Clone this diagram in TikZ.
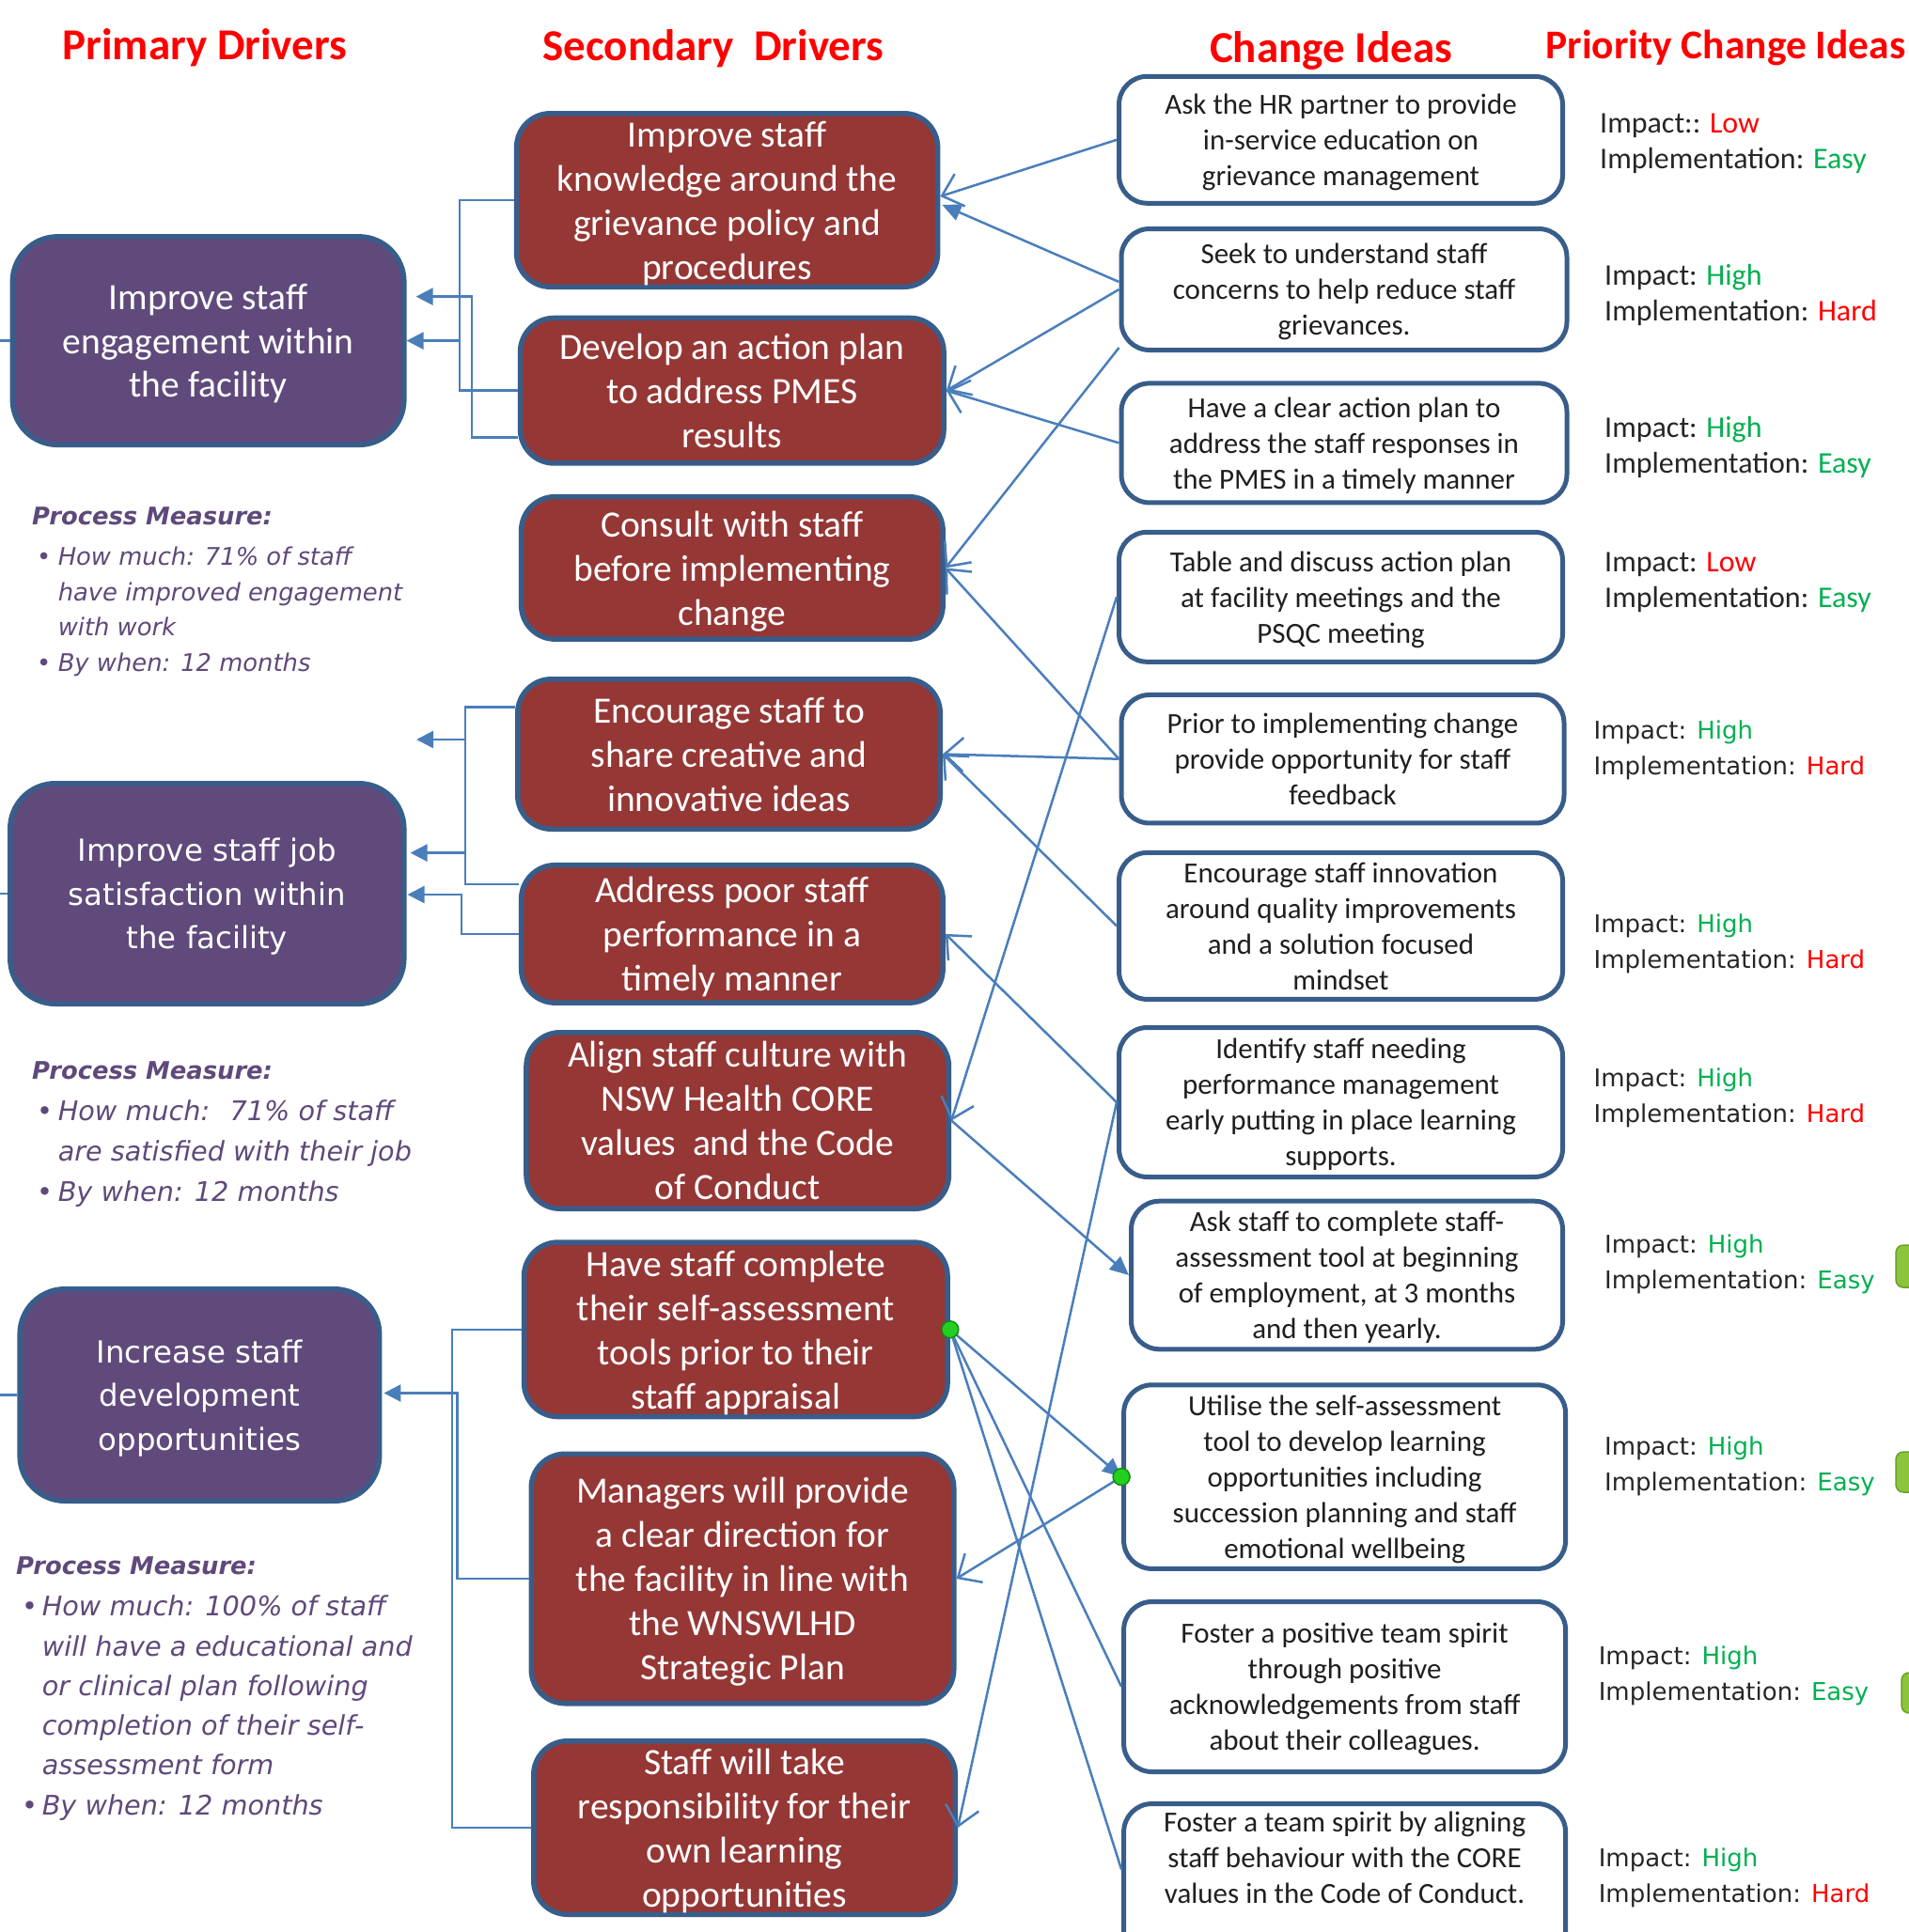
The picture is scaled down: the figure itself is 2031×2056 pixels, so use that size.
\documentclass[tikz,border=0pt]{standalone}
\usepackage{fontspec}
\setmainfont{Carlito}
\newfontfamily\vfont{DejaVu Sans}
\usetikzlibrary{arrows.meta,calc}

\definecolor{hdrred}{HTML}{FF0000}
\definecolor{pfill}{HTML}{604A7B}
\definecolor{sfill}{HTML}{953735}
\definecolor{bord}{HTML}{385D8A}
\definecolor{lineblue}{HTML}{4A7EBB}
\definecolor{okgreen}{HTML}{00B050}
\definecolor{pmtext}{HTML}{5F497A}
\definecolor{dotgreen}{HTML}{22D022}
\definecolor{dotedge}{HTML}{138A13}
\definecolor{bargreen}{HTML}{8CC43C}
\definecolor{baredge}{HTML}{6E9E2A}

\newcommand\boxfont{\fontsize{39.5}{47}\selectfont}
\newcommand\vboxfont{\vfont\fontsize{32.4}{46.5}\selectfont}
\newcommand\ideafont{\fontsize{31}{38}\selectfont}
\newcommand\pmhead{\vfont\bfseries\itshape\fontsize{25.8}{38}\selectfont}
\newcommand\pmsmall{\vfont\itshape\fontsize{25.8}{38}\selectfont}
\newcommand\pmlarge{\vfont\itshape\fontsize{28.7}{43}\selectfont}
\newcommand\pmbullet{\makebox[22.6pt][l]{\upshape\textbullet}}

\begin{document}
\begin{tikzpicture}[x=1pt,y=-1pt,
  hdr/.style={text=hdrred, font=\bfseries\fontsize{47}{56}\selectfont, anchor=base, inner sep=0pt},
  pbox/.style={rounded corners=48pt, fill=pfill, draw=bord, line width=5.5pt, text=white, align=center, inner sep=0pt, text depth=0pt},
  sbox/.style={rounded corners=36pt, fill=sfill, draw=bord, line width=5.5pt, text=white, align=center, inner sep=0pt, text depth=0pt, font=\boxfont},
  cbox/.style={rounded corners=30pt, fill=white, draw=bord, line width=5pt, text=black!88, align=center, inner sep=0pt, text depth=0pt, font=\ideafont},
  ctext/.style={text=black!88, align=center, inner sep=0pt, text depth=0pt, font=\ideafont},
  lconn/.style={draw=lineblue, line width=2.5pt},
  larr/.style={lconn, -{Triangle[length=18pt,width=18pt]}},
  oarr/.style={draw=lineblue, line width=2.5pt, -{Straight Barb[length=20pt,width=36pt]}},
  farr/.style={draw=lineblue, line width=2.5pt, -{Triangle[length=20pt,width=18pt]}},
  gdot/.style={circle, fill=dotgreen, draw=dotedge, line width=1.5pt, minimum size=18pt, inner sep=0pt},
  prio/.style={anchor=west, align=left, inner sep=0pt, text=black!85, font=\fontsize{32}{38}\selectfont},
  priov/.style={prio, font=\vfont\fontsize{26}{38}\selectfont},
  pm/.style={anchor=base west, inner sep=0pt, text=pmtext}
]
\useasboundingbox (0,0) rectangle (2031,2056);
\clip (0,0) rectangle (2031,2056);
\fill[white] (0,0) rectangle (2031,2056);

% column headings
\node[hdr] (hPrim) at (218,63) {Primary Drivers};
\node[hdr] (hSec) at (759,64.6) {Secondary~ Drivers};
\node[hdr] (hChg) at (1416,66.6) {Change Ideas};
\node[hdr, font=\bfseries\fontsize{43.5}{52}\selectfont] (hPri) at (1836,62) {Priority Change Ideas};

% primary drivers
\node[pbox, minimum width=416.5, minimum height=221.5, font=\boxfont\fontsize{39.5}{46.5}\selectfont] (P1) at (221.6,362.6)
  {Improve staff\\engagement within\\the facility};
\node[pbox, minimum width=419, minimum height=234.5, font=\vboxfont] (P2) at (220.3,951)
  {Improve staff job\\satisfaction within\\the facility};
\node[pbox, minimum width=382.5, minimum height=225.5, font=\vboxfont] (P3) at (212.4,1484.5)
  {Increase staff\\development\\opportunities};

% secondary drivers
\node[sbox, minimum width=448, minimum height=184.5] (S1) at (773.6,213)
  {Improve staff\\knowledge around the\\grievance policy and\\procedures};
\node[sbox, minimum width=450.5, minimum height=154.5] (S2) at (778.8,415.7)
  {Develop an action plan\\to address PMES\\results};
\node[sbox, minimum width=448.5, minimum height=151.5] (S3) at (778.9,604.4)
  {Consult with staff\\before implementing\\change};
\node[sbox, minimum width=449.5, minimum height=159.5] (S4) at (775.5,802.5)
  {Encourage staff to\\share creative and\\innovative ideas};
\node[sbox, minimum width=448.5, minimum height=146.5] (S5) at (778.9,993.9)
  {Address poor staff\\performance in a\\timely manner};
\node[sbox, minimum width=449.5, minimum height=187.5] (S6) at (784.7,1192.5)
  {Align staff culture with\\NSW Health CORE\\values~ and the Code\\of Conduct};
\node[sbox, minimum width=450.5, minimum height=185.5] (S7) at (782.8,1414.8)
  {Have staff complete\\their self-assessment\\tools prior to their\\staff appraisal};
\node[sbox, minimum width=449.5, minimum height=265.5] (S8) at (790,1680)
  {Managers will provide\\a clear direction for\\the facility in line with\\the WNSWLHD\\Strategic Plan};
\node[sbox, minimum width=448.5, minimum height=184.5] (S9) at (792,1945)
  {Staff will take\\responsibility for their\\own learning\\opportunities};

% change ideas
\node[cbox, minimum width=472, minimum height=135] (C1) at (1426.5,148.8)
  {Ask the HR partner to provide\\in-service education on\\grievance management};
\node[cbox, minimum width=474, minimum height=129] (C2) at (1430,308)
  {Seek to understand staff\\concerns to help reduce staff\\grievances.};
\node[cbox, minimum width=474, minimum height=127] (C3) at (1430,471.4)
  {Have a clear action plan to\\address the staff responses in\\the PMES in a timely manner};
\node[cbox, minimum width=472, minimum height=138] (C4) at (1426.5,635.3)
  {Table and discuss action plan\\at facility meetings and the\\PSQC meeting};
\node[cbox, minimum width=471, minimum height=136.5] (C5) at (1428.5,807.7)
  {Prior to implementing change\\provide opportunity for staff\\feedback};
\node[cbox, minimum width=472, minimum height=156] (C6) at (1426.5,985.4)
  {Encourage staff innovation\\around quality improvements\\and a solution focused\\mindset};
\node[cbox, minimum width=472, minimum height=159] (C7) at (1426.5,1173)
  {Identify staff needing\\performance management\\early putting in place learning\\supports.};
\node[cbox, minimum width=459, minimum height=157.6] (C8) at (1433,1357)
  {Ask staff to complete staff-\\assessment tool at beginning\\of employment, at 3 months\\and then yearly.};
\node[cbox, minimum width=470, minimum height=195.6] (C9) at (1430.6,1571.6)
  {Utilise the self-assessment\\tool to develop learning\\opportunities including\\succession planning and staff\\emotional wellbeing};
\node[cbox, minimum width=470, minimum height=181] (C10) at (1430.6,1795)
  {Foster a positive team spirit\\through positive\\acknowledgements from staff\\about their colleagues.};
\node[cbox, minimum width=470, minimum height=200] (C11) at (1430.6,2019.5) {};
\node[ctext] (C11t) at (1430.6,1976.6)
  {Foster a team spirit by aligning\\staff behaviour with the CORE\\values in the Code of Conduct.};

% priority ratings
\node[prio] (R1) at (1702,153) {Impact:: \textcolor{hdrred}{Low}\\Implementation: \textcolor{okgreen}{Easy}};
\node[prio] (R2) at (1707,314.4) {Impact: \textcolor{okgreen}{High}\\Implementation: \textcolor{hdrred}{Hard}};
\node[prio] (R3) at (1707,475.7) {Impact: \textcolor{okgreen}{High}\\Implementation: \textcolor{okgreen}{Easy}};
\node[prio] (R4) at (1707,620) {Impact: \textcolor{hdrred}{Low}\\Implementation: \textcolor{okgreen}{Easy}};
\node[priov] (R5) at (1695.5,798) {Impact: \textcolor{okgreen}{High}\\Implementation: \textcolor{hdrred}{Hard}};
\node[priov] (R6) at (1695.5,1004) {Impact: \textcolor{okgreen}{High}\\Implementation: \textcolor{hdrred}{Hard}};
\node[priov] (R7) at (1695.5,1168) {Impact: \textcolor{okgreen}{High}\\Implementation: \textcolor{hdrred}{Hard}};
\node[priov] (R8) at (1707,1345) {Impact: \textcolor{okgreen}{High}\\Implementation: \textcolor{okgreen}{Easy}};
\node[priov] (R9) at (1707,1560) {Impact: \textcolor{okgreen}{High}\\Implementation: \textcolor{okgreen}{Easy}};
\node[priov] (R10) at (1700.6,1783) {Impact: \textcolor{okgreen}{High}\\Implementation: \textcolor{okgreen}{Easy}};
\node[priov] (R11) at (1700.6,1998) {Impact: \textcolor{okgreen}{High}\\Implementation: \textcolor{hdrred}{Hard}};

% green markers at the right edge
\filldraw[fill=bargreen, draw=baredge, line width=1.5pt, rounded corners=8pt] (2017,1325) rectangle (2070,1370);
\filldraw[fill=bargreen, draw=baredge, line width=1.5pt, rounded corners=8pt] (2017,1545) rectangle (2070,1588);
\filldraw[fill=bargreen, draw=baredge, line width=1.5pt, rounded corners=8pt] (2023,1780) rectangle (2070,1823);

% process measures
\node[pm, font=\pmhead] (pm1h) at (34,558) {Process Measure:};
\node[pm, font=\pmsmall] (pm1a) at (39,601) {\pmbullet How much: 71\% of staff};
\node[pm, font=\pmsmall] (pm1b) at (61.6,639) {have improved engagement};
\node[pm, font=\pmsmall] (pm1c) at (61.6,676) {with work};
\node[pm, font=\pmsmall] (pm1d) at (39,714) {\pmbullet By when: 12 months};

\node[pm, font=\pmhead] (pm2h) at (34,1148) {Process Measure:};
\node[pm, font=\pmlarge] (pm2a) at (39,1192) {\pmbullet How much:~ 71\% of staff};
\node[pm, font=\pmlarge] (pm2b) at (61.6,1235.4) {are satisfied with their job};
\node[pm, font=\pmlarge] (pm2c) at (39,1278.6) {\pmbullet By when: 12 months};

\node[pm, font=\pmhead] (pm3h) at (17,1675) {Process Measure:};
\node[pm, font=\pmlarge] (pm3a) at (23.6,1719) {\makebox[21pt][l]{\upshape\textbullet}How much: 100\% of staff};
\node[pm, font=\pmlarge] (pm3b) at (44.6,1762.4) {will have a educational and};
\node[pm, font=\pmlarge] (pm3c) at (44.6,1804.4) {or clinical plan following};
\node[pm, font=\pmlarge] (pm3d) at (44.6,1846.4) {completion of their self-};
\node[pm, font=\pmlarge] (pm3e) at (44.6,1888.4) {assessment form};
\node[pm, font=\pmlarge] (pm3f) at (23.6,1931.4) {\makebox[21pt][l]{\upshape\textbullet}By when: 12 months};

% links leaving the primary drivers to the left
\coordinate (edgeP1) at (0,362.6);
\coordinate (edgeP2) at (0,951);
\coordinate (edgeP3) at (0,1484.5);
\draw[lconn] (P1.west) -- (edgeP1);
\draw[lconn] (P2.west) -- (edgeP2);
\draw[lconn] (P3.west) -- (edgeP3);

% secondary -> primary elbows
\draw[lconn] (S1.west) -- ++(-58,0) |- (S2.west);
\coordinate (busA) at (489,362.6);
\draw[larr] (busA) -- (P1.east);
\draw[larr] ($(S2.west)+(0,50)$) -- ++(-49,0) |- ($(P1.east)+(10,-47)$);

\draw[lconn] ($(S4.west)+(0,-50)$) -- ++(-53,0) |- ($(S5.west)+(0,-53)$);
\coordinate (busC1) at (495,787);
\coordinate (freeC1) at (443,787);
\coordinate (busC2) at (495,907.6);
\draw[larr] (busC1) -- (freeC1);
\draw[larr] (busC2) -- ($(P2.east)+(4,-43.4)$);
\draw[larr] (S5.west) -- ++(-61,0) |- ($(P2.east)+(1,1)$);

\draw[lconn] (S7.west) -- ++(-74,0) |- (S9.west);
\draw[larr] (S8.west) -- ++(-76,0) |- ($(P3.east)+(2,-2)$);

% change ideas -> secondary drivers
\draw[oarr] (C1.west) -- ($(S1.east)+(0,-4)$);
\draw[farr] ($(C2.west)+(0,-8)$) -- ($(S1.east)+(2,5)$);
\draw[oarr] (C2.west) -- (S2.east);
\draw[oarr] (C3.west) -- (S2.east);
\draw[oarr] ($(C2.west)+(0,62)$) -- (S3.east);
\draw[oarr] (C5.west) -- (S3.east);
\draw[oarr] (C5.west) -- (S4.east);
\draw[oarr] (C6.west) -- (S4.east);
\draw[oarr] (C4.west) -- (S6.east);
\draw[oarr] (C7.west) -- (S5.east);
\draw[oarr] (C7.west) -- (S9.east);
\draw[farr] (S6.east) -- (C8.west);
\draw[farr] (S7.east) -- (C9.west);
\draw[oarr] (C9.west) -- (S8.east);
\draw[lconn] (S7.east) -- (C10.west);
\draw[lconn] (S7.east) -- ($(C11.west)+(0,-30)$);

% connection handles
\node[gdot] (dotS7) at (S7.east) {};
\node[gdot] (dotC9) at (C9.west) {};
\end{tikzpicture}
\end{document}
